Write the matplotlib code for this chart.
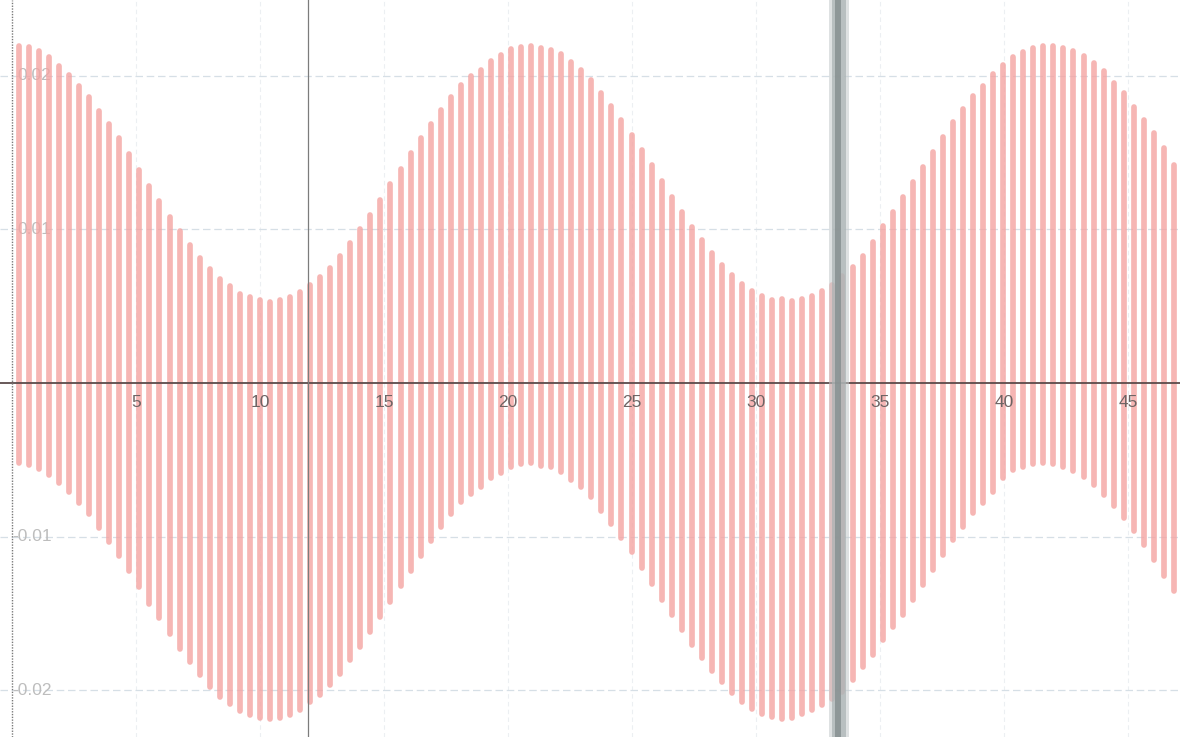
import numpy as np
import matplotlib.pyplot as plt

# one band per oscillation, evenly spaced along x
x_start = 0.28
x_step = 0.405

# crest of each oscillation
peak_tops = [
    0.02197, 0.02189, 0.02163, 0.02122, 0.02067, 0.02007, 0.01937, 0.01865, 0.01774, 0.01687,
    0.01596, 0.01494, 0.01388, 0.01283, 0.01188, 0.01083, 0.00990, 0.00900, 0.00815, 0.00740,
    0.00675, 0.00630, 0.00582, 0.00560, 0.00539, 0.00530, 0.00540, 0.00560, 0.00590, 0.00640,
    0.00690, 0.00750, 0.00825, 0.00914, 0.01003, 0.01097, 0.01194, 0.01294, 0.01395, 0.01496,
    0.01594, 0.01690, 0.01780, 0.01864, 0.01942, 0.02000, 0.02040, 0.02098, 0.02137, 0.02176,
    0.02191, 0.02197, 0.02180, 0.02170, 0.02140, 0.02090, 0.02040, 0.01975, 0.01886, 0.01802,
    0.01711, 0.01617, 0.01518, 0.01417, 0.01315, 0.01213, 0.01114, 0.01019, 0.00929, 0.00845,
    0.00769, 0.00702, 0.00645, 0.00598, 0.00564, 0.00541, 0.00545, 0.00537, 0.00545, 0.00565,
    0.00597, 0.00641, 0.00695, 0.00756, 0.00825, 0.00920, 0.01020, 0.01115, 0.01210, 0.01307,
    0.01405, 0.01503, 0.01601, 0.01698, 0.01785, 0.01872, 0.01937, 0.02013, 0.02074, 0.02122,
    0.02154, 0.02182, 0.02197, 0.02197, 0.02182, 0.02160, 0.02128, 0.02085, 0.02031, 0.01957,
    0.01887, 0.01797, 0.01711, 0.01626, 0.01528, 0.01419,
]

# trough of each oscillation
trough_bottoms = [
    -0.00523, -0.00531, -0.00557, -0.00598, -0.00653, -0.00713, -0.00783, -0.00855, -0.00946, -0.01033,
    -0.01124, -0.01226, -0.01332, -0.01437, -0.01532, -0.01637, -0.01730, -0.01820, -0.01905, -0.01980,
    -0.02045, -0.02090, -0.02138, -0.02160, -0.02181, -0.02190, -0.02180, -0.02160, -0.02130, -0.02080,
    -0.02030, -0.01970, -0.01895, -0.01806, -0.01717, -0.01623, -0.01526, -0.01426, -0.01325, -0.01224,
    -0.01126, -0.01030, -0.00940, -0.00856, -0.00778, -0.00720, -0.00680, -0.00622, -0.00583, -0.00544,
    -0.00529, -0.00523, -0.00540, -0.00550, -0.00580, -0.00630, -0.00680, -0.00745, -0.00834, -0.00918,
    -0.01009, -0.01103, -0.01207, -0.01311, -0.01412, -0.01514, -0.01607, -0.01708, -0.01789, -0.01875,
    -0.01950, -0.02021, -0.02080, -0.02123, -0.02155, -0.02176, -0.02187, -0.02182, -0.02155, -0.02133,
    -0.02100, -0.02060, -0.02010, -0.01937, -0.01850, -0.01774, -0.01676, -0.01589, -0.01510, -0.01413,
    -0.01315, -0.01217, -0.01119, -0.01022, -0.00935, -0.00848, -0.00783, -0.00707, -0.00622, -0.00568,
    -0.00546, -0.00529, -0.00520, -0.00529, -0.00546, -0.00572, -0.00611, -0.00666, -0.00731, -0.00803,
    -0.00879, -0.00966, -0.01054, -0.01151, -0.01259, -0.01357,
]

x_ticks = [5, 10, 15, 20, 25, 30, 35, 40, 45]
y_ticks = [0.02, 0.01, -0.01, -0.02]
y_tick_labels = ['0.02', '0.01', '-0.01', '-0.02']

x = x_start + x_step * np.arange(len(peak_tops))

fig = plt.figure(figsize=(11.8, 7.37), dpi=100)
ax = fig.add_axes([0, 0, 1, 1])
ax.set_xlim(-0.48, 47.1)
ax.set_ylim(-0.02306, 0.02495)
ax.axis('off')

# grid
for xv in x_ticks:
    ax.axvline(xv, color='#eceff2', lw=0.8, ls=(0, (4, 3)), zorder=0)
for yv in y_ticks:
    ax.axhline(yv, color='#d6dfe6', lw=0.9, ls=(0, (6, 3)), zorder=0)

# y labels sit inside the plot, behind the signal
for yv, lab in zip(y_ticks, y_tick_labels):
    ax.text(1.6, yv, lab, ha='right', va='center', fontsize=12.5,
            color='#bdbdbd', family='Liberation Sans', zorder=1)

# the signal: a band from trough to crest for every cycle
ax.vlines(x, trough_bottoms, peak_tops, colors='#f4a4a2', linewidth=4.1,
          capstyle='round', alpha=0.8, zorder=2)

# axes
ax.axhline(0, color='#5c4b4b', lw=1.3, zorder=3)
ax.axvline(0, color='#7a7a7a', lw=1.0, ls=(0, (1, 1)), zorder=3)

for xv in x_ticks:
    ax.text(xv, -0.0013, str(xv), ha='center', va='center', fontsize=12.5,
            color='#6e6464', family='Liberation Sans', zorder=4)

# fold and gutter shading
ax.axvline(11.94, color='#7c7c7c', lw=0.9, zorder=5)
ax.axvspan(32.94, 33.76, color='#c4cacb', alpha=0.55, lw=0, zorder=5)
ax.axvspan(33.06, 33.62, color='#a9b1b2', alpha=0.7, lw=0, zorder=5)
ax.axvspan(33.18, 33.42, color='#879091', alpha=0.85, lw=0, zorder=6)

fig.savefig('out.png', dpi=100)
